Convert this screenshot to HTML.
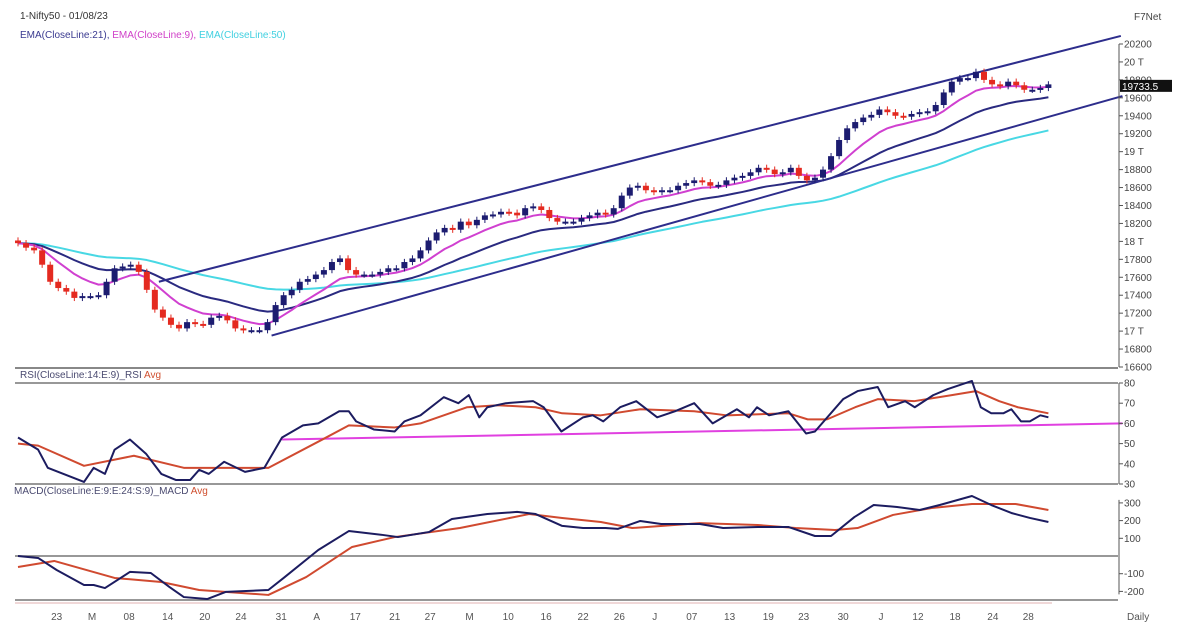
<!DOCTYPE html>
<html><head><meta charset="utf-8"><style>
body{margin:0;background:#fff;}
svg{display:block;font-family:"Liberation Sans",Verdana,sans-serif;}
</style></head><body>
<svg id="c" width="1177" height="637" viewBox="0 0 1177 637">
<rect width="1177" height="637" fill="#fff"/>
<text x="20" y="19" font-size="10" fill="#333">1-Nifty50 - 01/08/23</text>
<text x="20" y="38" font-size="10"><tspan fill="#3a3a90">EMA(CloseLine:21), </tspan><tspan fill="#d040c8">EMA(CloseLine:9), </tspan><tspan fill="#40d0e0">EMA(CloseLine:50)</tspan></text>
<text x="1134" y="20" font-size="10" fill="#444">F7Net</text>
<text x="20" y="378" font-size="10"><tspan fill="#4a4a70">RSI(CloseLine:14:E:9)_RSI </tspan><tspan fill="#d05030">Avg</tspan></text>
<text x="14" y="494" font-size="10"><tspan fill="#4a4a70">MACD(CloseLine:E:9:E:24:S:9)_MACD </tspan><tspan fill="#d05030">Avg</tspan></text>
<text x="1127" y="620" font-size="10" fill="#555">Daily</text>
<g id="g"></g>
</svg>
<script>
const closes=[17980,17930,17900,17740,17550,17480,17440,17370,17390,17390,17400,17550,17700,17720,17740,17660,17460,17240,17150,17070,17030,17100,17080,17070,17150,17170,17120,17030,17010,17010,17010,17100,17290,17400,17460,17550,17580,17630,17680,17770,17810,17680,17630,17630,17630,17660,17700,17700,17770,17810,17900,18010,18100,18150,18130,18220,18180,18240,18290,18300,18330,18320,18290,18370,18390,18350,18260,18220,18220,18220,18260,18290,18320,18300,18370,18510,18600,18620,18570,18550,18570,18570,18620,18650,18680,18660,18620,18630,18680,18710,18730,18770,18820,18800,18750,18770,18820,18730,18680,18710,18800,18950,19130,19260,19330,19380,19410,19470,19440,19400,19390,19420,19440,19450,19520,19660,19780,19820,19820,19890,19800,19750,19730,19780,19740,19690,19690,19710,19750];
const priceTicks=[16600,16800,17000,17200,17400,17600,17800,18000,18200,18400,18600,18800,19000,19200,19400,19600,19800,20000,20200];
const rsiIdx=[0,2.5,3.7,8.2,9.4,10.8,12,13.9,15.9,17.8,19.6,21.4,22.5,23.7,25.6,28.2,30.6,32.8,35.4,37.3,39.9,41.1,42,44.2,46.8,48,50,52.9,54.7,56,57.3,58.3,60.6,64,65.3,67.5,70.2,71.4,72.7,74.8,76.8,79.4,81.6,84,86.3,89.3,90.8,91.8,93.3,95.7,97.9,99,102.5,104.3,106.8,108.1,110.2,111.4,113.7,115.5,118.5,119.6,120.9,122.4,123.4,124.6,125.7,127,128];
const rsiVal=[53,47,38,31,38,35,47,52,45,35,32,32,37,35,41,36,38,53,59,60,66,66,61,57,56,61,64,73,70,74,63,68,70,71,68,56,63,64,61,68,71,63,66,70,60,67,63,68,64,66,55,56,72,76,78,68,71,68,74,77,81,68,65,65,67,61,61,64,63];
const rsiAvgIdx=[0,2.5,8.2,14.4,20.6,31.1,37.8,41.1,46.8,50,55.8,59.6,64.3,67.6,72.4,77.3,84,88,95.7,98.1,100.5,104,106.8,111.3,116,119,121.9,124.2,128];
const rsiAvgVal=[50,49,39,44,38,38,52,59,58,60,68,69,68,65,64,67,66,64,65,62,62,68,72,71,74,76,71,68,65];
const rsiTicks=[30,40,50,60,70,80];
const macdIdx=[0,2.5,4.8,8.2,9.4,10.8,13.9,16.5,18.8,20.6,23.5,25.8,31.1,33,37.3,41.1,45.3,47.2,51.1,53.9,58.3,62,64.3,67.6,70.2,73,74.5,77.3,79.9,84.7,87.6,91.9,95.7,99,101,103.9,106.3,109.2,112,114.5,118.5,120.9,123.4,125.7,128];
const macdVal=[0,-11,-79,-164,-164,-181,-90,-96,-175,-232,-243,-203,-192,-124,34,141,119,107,136,209,237,249,237,170,158,158,153,198,181,181,158,164,164,113,113,220,288,277,260,288,339,288,243,215,192];
const macdAvgIdx=[0,4.5,12,17.8,22.5,31.1,35.8,41.5,46.8,54.9,63.5,67.6,72.4,76.3,84.7,91.9,96.6,101.5,104.3,108.7,113.5,118.5,123.9,128];
const macdAvgVal=[-62,-28,-124,-147,-192,-220,-119,51,107,158,237,215,192,158,186,175,158,147,158,232,271,294,294,260];
const macdTicks=[-200,-100,100,200,300];
const dayIdx=[4.8,9.2,13.8,18.6,23.2,27.7,32.7,37.1,41.9,46.8,51.2,56.1,60.9,65.6,70.2,74.7,79.1,83.7,88.4,93.2,97.6,102.5,107.2,111.8,116.4,121.1,125.5];
const dayLbl=["23","M","08","14","20","24","31","A","17","21","27","M","10","16","22","26","J","07","13","19","23","30","J","12","18","24","28"];
const upperLine=[[17.5,17550],[137,20290]];
const lowerLine=[[31.5,16950],[137.2,19620]];
const rsiTrend=[[32.8,52],[137.2,60]];
const lastPrice="19733.5";

const X=i=>18+i*8.05;
const PY=p=>44+(20200-p)*0.08972;
const RY=v=>383+(80-v)*2.02;
const MY=v=>556-v*0.177;
const NS="http://www.w3.org/2000/svg";
const g=document.getElementById('g');
function mk(t,a){const e=document.createElementNS(NS,t);for(const k in a)e.setAttribute(k,a[k]);g.appendChild(e);return e;}
function poly(xs,ys,color,w,name){const e=mk('polyline',{points:xs.map((x,i)=>x+','+ys[i]).join(' '),fill:'none',stroke:color,'stroke-width':w,'stroke-linejoin':'round'});

return e;}
function hline(y,x1,x2,name,c,w){const e=mk('line',{x1:x1,x2:x2,y1:y,y2:y,stroke:c||'#888',"stroke-width":w||2});

}
hline(368,15,1118,'main-bottom-border','#888',2);
hline(RY(80),15,1118,'rsi-80-line','#777',1.5);
hline(RY(30),15,1118,'rsi-30-line','#777',1.5);
hline(MY(0),15,1118,'macd-zero-line','#777',1.5);
hline(600,15,1118,'macd-bottom-line','#777',1.5);
hline(603,15,1052,'x-axis-line','#e0b0b0',1);
function ema(a,n){const k=2/(n+1);const o=[a[0]];for(let i=1;i<a.length;i++)o.push(a[i]*k+o[i-1]*(1-k));return o;}
const xs=closes.map((c,i)=>X(i));
poly(xs,ema(closes,50).map(PY),'#48d8e4',2,'ema-50-line');
poly(xs,ema(closes,21).map(PY),'#2a2a80',2,'ema-21-line');
poly(xs,ema(closes,9).map(PY),'#d040d0',2,'ema-9-line');
poly(upperLine.map(p=>X(p[0])),upperLine.map(p=>PY(p[1])),'#2d2d8c',2,'upper-channel-line');
poly(lowerLine.map(p=>X(p[0])),lowerLine.map(p=>PY(p[1])),'#2d2d8c',2,'lower-channel-line');
closes.forEach((c,i)=>{const o=i?closes[i-1]:c+30;const up=c>=o;const col=up?'#1c1c70':'#e42a20';
const hi=Math.max(o,c)+35, lo=Math.min(o,c)-35;
const w=mk('line',{x1:X(i),x2:X(i),y1:PY(hi),y2:PY(lo),stroke:col,'stroke-width':1});


const top=PY(Math.max(o,c)),h=Math.max(2,Math.abs(PY(o)-PY(c)));
const b=mk('rect',{x:X(i)-3,y:top,width:6,height:h,fill:col});

});
poly(rsiTrend.map(p=>X(p[0])),rsiTrend.map(p=>RY(p[1])),'#e040e0',2,'rsi-trendline');
poly(rsiAvgIdx.map(X),rsiAvgVal.map(RY),'#d04a30',2,'rsi-avg-line');
poly(rsiIdx.map(X),rsiVal.map(RY),'#1c1c60',2,'rsi-line');
poly(macdAvgIdx.map(X),macdAvgVal.map(MY),'#d04a30',2,'macd-avg-line');
poly(macdIdx.map(X),macdVal.map(MY),'#1c1c60',2,'macd-line');
function vline(x,y1,y2,name){const e=mk('line',{x1:x,x2:x,y1:y1,y2:y2,stroke:'#555','stroke-width':1});

}
vline(1119,PY(20200),PY(16600),'price-axis');
vline(1119,RY(80),RY(30),'rsi-axis');
vline(1119,MY(300)-3,MY(-200)+3,'macd-axis');
function tick(y,label,name){const l=mk('line',{x1:1119,x2:1123,y1:y,y2:y,stroke:'#555'});


const t=mk('text',{x:1124,y:y+3.5,'font-size':10,fill:'#444'});t.textContent=label;

}
priceTicks.forEach(p=>tick(PY(p),p%1000===0?(p/1000)+' T':String(p),'price'));
rsiTicks.forEach(v=>tick(RY(v),String(v),'rsi'));
macdTicks.forEach(v=>tick(MY(v),String(v),'macd'));
const pb=mk('rect',{x:1120,y:PY(19733.5)-6,width:52,height:12,fill:'#111'});


const pt=mk('text',{x:1122,y:PY(19733.5)+4,'font-size':10,fill:'#fff'});pt.textContent=lastPrice;


dayLbl.forEach((d,i)=>{const t=mk('text',{x:X(dayIdx[i]),y:620,'font-size':10,fill:'#555','text-anchor':'middle'});t.textContent=d;

});
</script>
</body></html>
